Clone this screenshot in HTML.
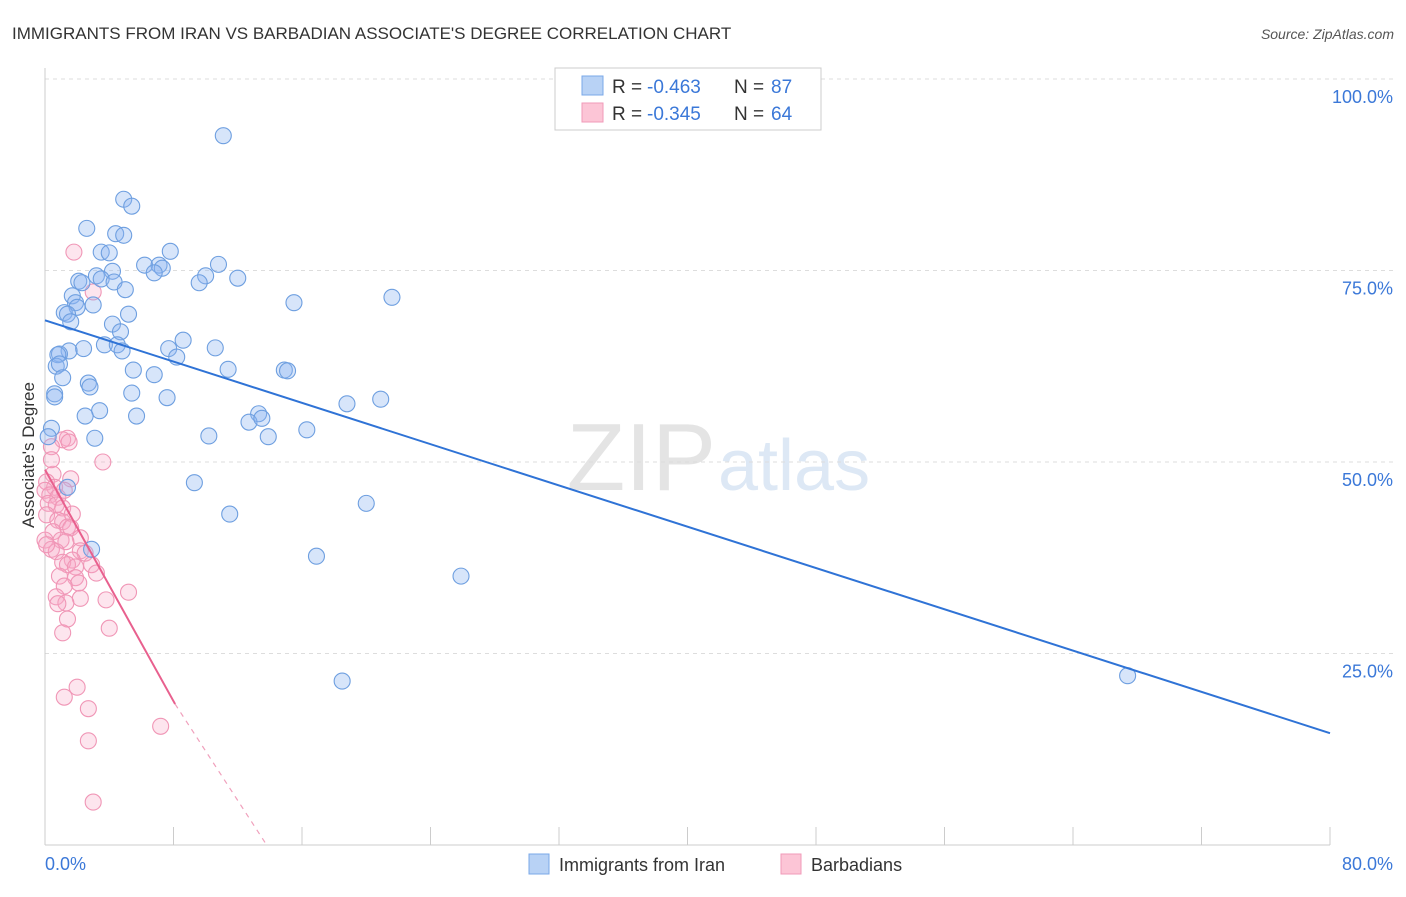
<!DOCTYPE html>
<html><head><meta charset="utf-8"><style>
body{margin:0;background:#fff;font-family:"Liberation Sans",sans-serif;}
svg text{font-family:"Liberation Sans",sans-serif;}
</style></head><body>
<svg id="chart" width="1406" height="892" viewBox="0 0 1406 892" xmlns="http://www.w3.org/2000/svg">
<text x="12" y="39" font-size="17" fill="#333">IMMIGRANTS FROM IRAN VS BARBADIAN ASSOCIATE'S DEGREE CORRELATION CHART</text>
<text x="1394" y="39" font-size="14" fill="#555" font-style="italic" text-anchor="end">Source: ZipAtlas.com</text>
<text x="716" y="490" font-size="96" fill="#e4e4e4" text-anchor="end" font-family="Liberation Serif">ZIP</text>
<text x="718" y="490" font-size="72" fill="#dde8f5">atlas</text>
<g id="grid"></g>
<g id="axes"></g>
<g id="pts"></g>
<g id="trend"></g>
<text transform="translate(34,455) rotate(-90)" font-size="17" fill="#333" text-anchor="middle">Associate's Degree</text>
<g>
<rect x="555" y="68" width="266" height="62" fill="#fff" stroke="#ccc"/>
<rect x="582" y="76" width="21" height="19" fill="#b8d2f5" stroke="#7aa8e8"/>
<text x="612" y="93" font-size="19" fill="#333">R =</text>
<text x="647" y="93" font-size="19" fill="#3b78d8">-0.463</text>
<text x="734" y="93" font-size="19" fill="#333">N =</text>
<text x="771" y="93" font-size="19" fill="#3b78d8">87</text>
<rect x="582" y="103" width="21" height="19" fill="#fcc5d6" stroke="#f09ab8"/>
<text x="612" y="120" font-size="19" fill="#333">R =</text>
<text x="647" y="120" font-size="19" fill="#3b78d8">-0.345</text>
<text x="734" y="120" font-size="19" fill="#333">N =</text>
<text x="771" y="120" font-size="19" fill="#3b78d8">64</text>
</g>
<g>
<rect x="529" y="854" width="20" height="20" fill="#b8d2f5" stroke="#7aa8e8"/>
<text x="559" y="871" font-size="18" fill="#333">Immigrants from Iran</text>
<rect x="781" y="854" width="20" height="20" fill="#fcc5d6" stroke="#f09ab8"/>
<text x="811" y="871" font-size="18" fill="#333">Barbadians</text>
</g>
</svg>
<script>
const blueX=[11.1,4.9,5.4,2.6,4.4,4.9,3.5,4.0,7.8,6.2,7.1,7.3,6.8,10.8,10.0,12.0,9.6,4.2,3.2,3.5,2.1,2.3,4.3,5.0,1.7,1.9,2.0,3.0,1.2,1.4,1.6,15.5,21.6,5.2,4.2,4.7,8.6,3.7,4.5,4.8,2.4,1.5,0.9,0.8,7.7,10.6,8.2,0.7,0.9,5.5,11.4,14.9,15.1,1.1,6.8,2.7,2.8,5.4,0.6,0.6,7.6,18.8,20.9,3.4,2.5,5.7,13.3,12.7,13.5,16.3,0.4,0.2,3.1,10.2,13.9,9.3,1.4,20.0,11.5,16.9,2.9,25.9,18.5,67.4];
const blueY=[92.6,84.3,83.4,80.5,79.8,79.6,77.4,77.3,77.5,75.7,75.7,75.3,74.7,75.8,74.3,74.0,73.4,74.9,74.3,73.9,73.6,73.4,73.5,72.5,71.7,70.8,70.2,70.5,69.5,69.3,68.3,70.8,71.5,69.3,68.0,67.0,65.9,65.3,65.3,64.5,64.8,64.5,64.1,64.0,64.8,64.9,63.7,62.5,62.8,62.0,62.1,62.0,61.9,61.0,61.4,60.3,59.8,59.0,58.9,58.5,58.4,57.6,58.2,56.7,56.0,56.0,56.3,55.2,55.7,54.2,54.4,53.3,53.1,53.4,53.3,47.3,46.7,44.6,43.2,37.7,38.6,35.1,21.4,22.1];
const pinkX=[1.8,3.0,1.4,1.1,1.5,0.4,3.6,0.5,1.6,0.1,0.6,0.0,0.3,0.8,1.2,0.2,0.7,1.1,1.7,0.1,0.8,1.1,1.4,0.5,1.6,2.2,0.0,1.0,1.3,0.4,2.2,0.7,2.5,1.7,1.1,1.4,1.9,2.9,0.9,1.9,2.1,3.2,1.2,5.2,0.7,2.2,1.3,0.8,3.8,1.4,1.1,4.0,2.0,1.2,2.7,7.2,2.7,3.0,0.1,0.4];
const pinkY=[77.4,72.2,53.1,52.9,52.6,52.0,50.0,48.4,47.8,47.4,46.7,46.3,45.7,45.4,46.3,44.6,44.4,44.0,43.2,43.1,42.4,42.2,41.5,40.9,41.4,40.1,39.8,39.8,39.6,38.6,38.4,38.3,38.1,37.2,36.9,36.6,36.3,36.6,35.1,34.9,34.2,35.5,33.8,33.0,32.4,32.2,31.6,31.5,32.0,29.5,27.7,28.3,20.6,19.3,17.8,15.5,13.6,5.6,39.2,50.3];
const blueTrend=[[0,68.5],[80,14.6]];
const pinkTrendSolid=[[0,49.0],[8.1,18.4]];
const pinkTrendDash=[[8.1,18.4],[13.8,0]];
const yTicks=[25,50,75,100];
const xTickLabels=["0.0%","80.0%"];

const L=45,R=1330,T=79,B=845;
const sx=v=>L+v/80*(R-L);
const sy=v=>B-v/100*(B-T);
const NS="http://www.w3.org/2000/svg";
function mk(tag,attrs,parent){const e=document.createElementNS(NS,tag);for(const k in attrs)e.setAttribute(k,attrs[k]);parent.appendChild(e);return e;}
const grid=document.getElementById('grid'),axes=document.getElementById('axes'),pts=document.getElementById('pts'),tr=document.getElementById('trend');
yTicks.forEach(t=>{
  const l=mk('line',{x1:L,x2:1394,y1:sy(t),y2:sy(t),stroke:'#ddd','stroke-dasharray':'4,4'},grid);
  
  
  const tx=mk('text',{x:1393,y:sy(t)+24,'font-size':18,fill:'#3b78d8','text-anchor':'end'},axes);
  tx.textContent=t.toFixed(1)+'%';
  
  
});
const xa=mk('line',{x1:L,x2:R,y1:B,y2:B,stroke:'#ccc'},axes);


const ya=mk('line',{x1:L,x2:L,y1:68,y2:B,stroke:'#ccc'},axes);


for(let i=0;i<=10;i++){
  const tk=mk('line',{x1:sx(i*8),x2:sx(i*8),y1:B,y2:B-18,stroke:'#ccc'},axes);
  
  
}
const xl0=mk('text',{x:45,y:870,'font-size':18,fill:'#3b78d8'},axes);
xl0.textContent=xTickLabels[0];


const xl1=mk('text',{x:1393,y:870,'font-size':18,fill:'#3b78d8','text-anchor':'end'},axes);
xl1.textContent=xTickLabels[1];


pinkX.forEach((x,i)=>{
  const c=mk('circle',{cx:sx(x),cy:sy(pinkY[i]),r:8,fill:'rgba(248,170,198,0.3)',stroke:'#f096b6','stroke-width':1.1},pts);
  
  
});
blueX.forEach((x,i)=>{
  const c=mk('circle',{cx:sx(x),cy:sy(blueY[i]),r:8,fill:'rgba(140,180,240,0.35)',stroke:'#6e9fe0','stroke-width':1.1},pts);
  
  
});
const bl=mk('line',{x1:sx(blueTrend[0][0]),y1:sy(blueTrend[0][1]),x2:sx(blueTrend[1][0]),y2:sy(blueTrend[1][1]),stroke:'#2f73d6','stroke-width':2},tr);


const pl=mk('line',{x1:sx(pinkTrendSolid[0][0]),y1:sy(pinkTrendSolid[0][1]),x2:sx(pinkTrendSolid[1][0]),y2:sy(pinkTrendSolid[1][1]),stroke:'#e8608e','stroke-width':2},tr);


const pd=mk('line',{x1:sx(pinkTrendDash[0][0]),y1:sy(pinkTrendDash[0][1]),x2:sx(pinkTrendDash[1][0]),y2:sy(pinkTrendDash[1][1]),stroke:'#f0a0bc','stroke-width':1.2,'stroke-dasharray':'5,5'},tr);


</script>
</body></html>
